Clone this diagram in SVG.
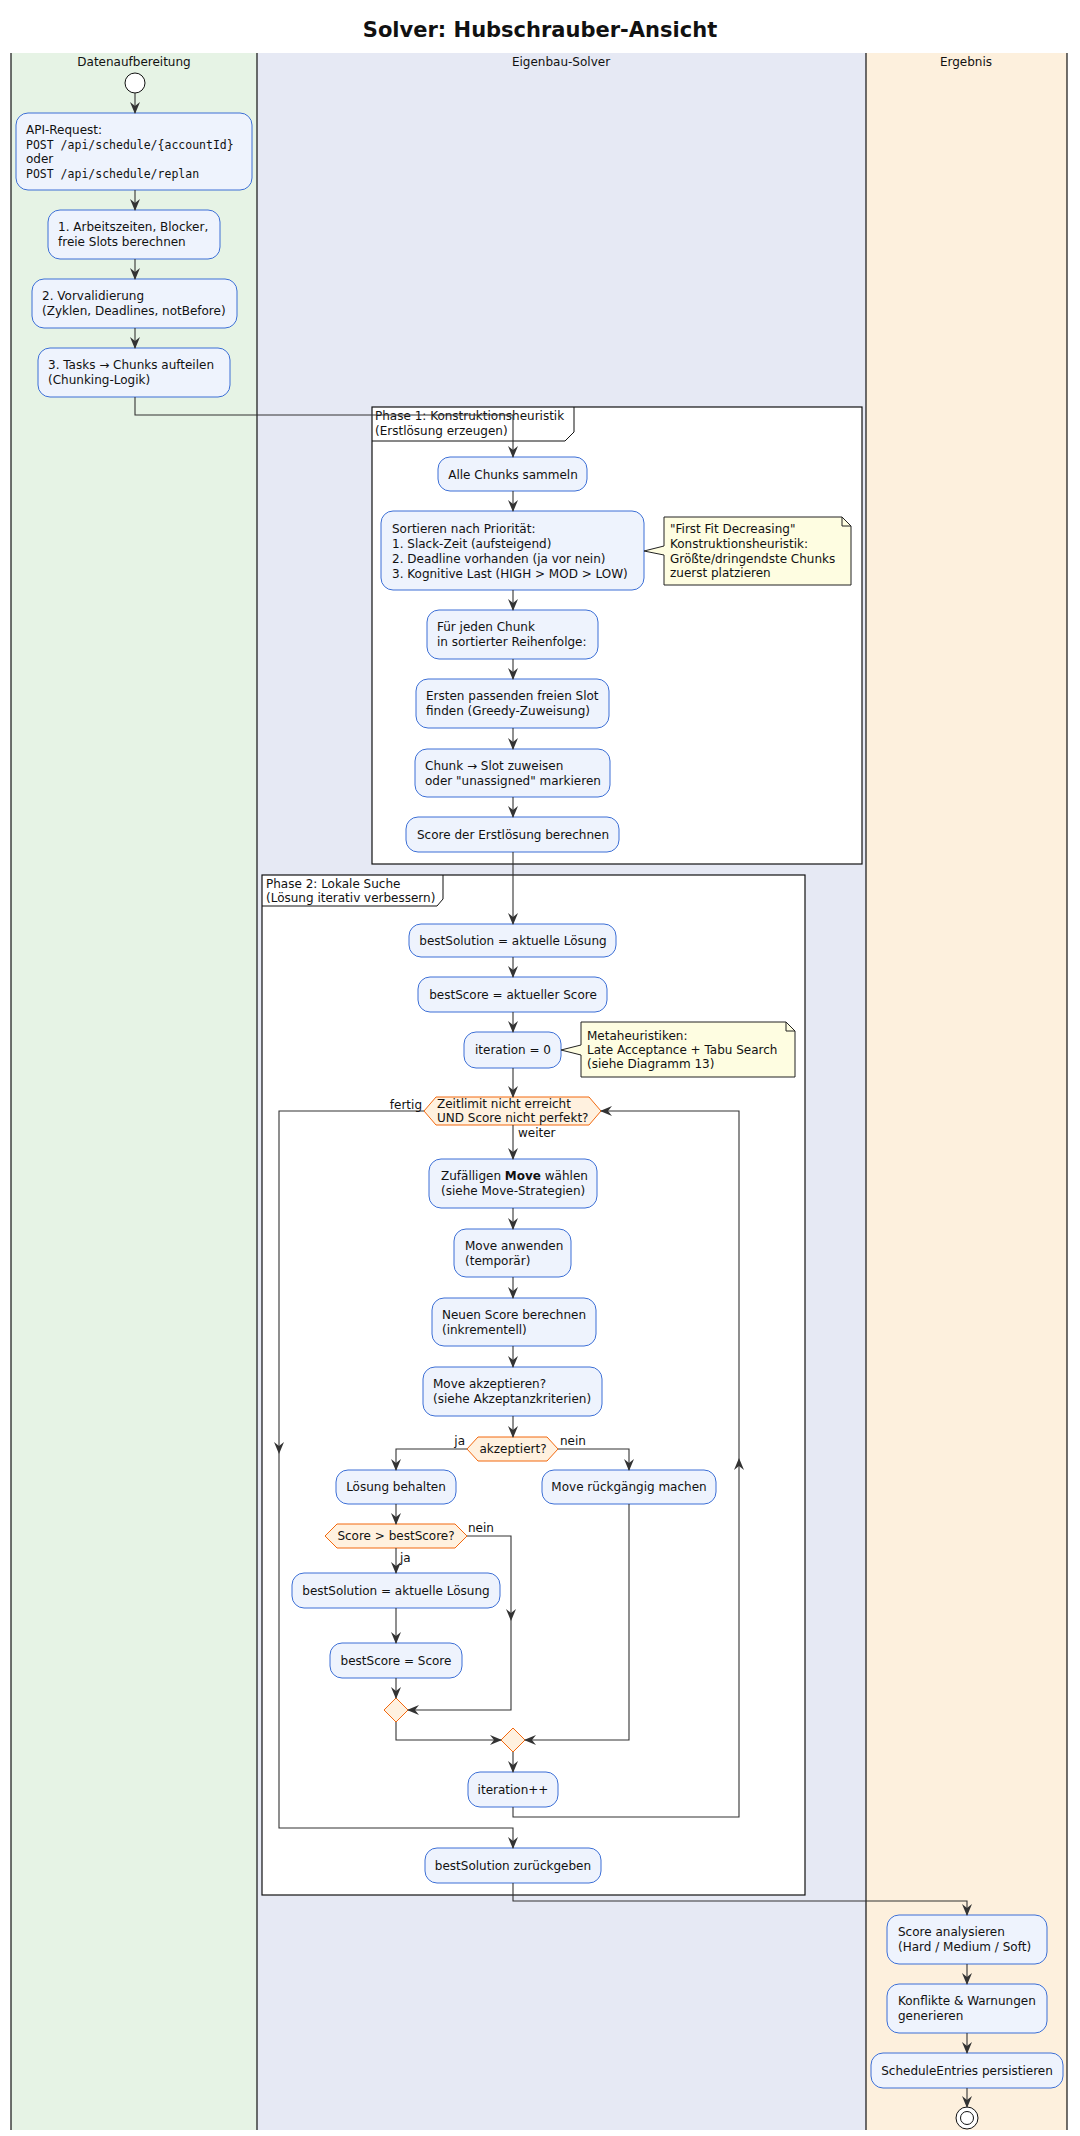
<svg xmlns="http://www.w3.org/2000/svg" width="1080" height="2136" viewBox="0 0 1080 2136">
<style>
text{font-family:"DejaVu Sans",Verdana,sans-serif;font-size:12px;fill:#111}
.mono{font-family:"DejaVu Sans Mono","Liberation Mono",monospace;font-size:11.5px}
.c{text-anchor:middle}
.box{fill:#eef3fd;stroke:#3c6fd6;stroke-width:1}
.dec{fill:#fff1df;stroke:#f2680e;stroke-width:1}
.note{fill:#fefde1;stroke:#222;stroke-width:1}
.frame{fill:#fff;stroke:#111;stroke-width:1.2}
.lane{stroke:#111;stroke-width:1.2}
.cn path{fill:none;stroke:#333;stroke-width:1.1}
</style>
<defs>
<marker id="a" viewBox="0 0 12 10" refX="11" refY="5" markerWidth="12" markerHeight="10" markerUnits="userSpaceOnUse" orient="auto">
<path d="M0,0 L12,5 L0,10 L4,5 z" fill="#333"/>
</marker>
</defs>
<rect width="1080" height="2136" fill="#fff"/>
<text x="540" y="37" class="c" style="font-size:21px;font-weight:bold">Solver: Hubschrauber-Ansicht</text>
<rect x="11" y="53" width="246" height="2077" fill="#e6f3e5"/>
<rect x="257" y="53" width="609" height="2077" fill="#e6e9f4"/>
<rect x="866" y="53" width="201" height="2077" fill="#fdf0dd"/>
<g class="lane"><line x1="11" y1="53" x2="11" y2="2130"/><line x1="257" y1="53" x2="257" y2="2130"/><line x1="866" y1="53" x2="866" y2="2130"/><line x1="1067" y1="53" x2="1067" y2="2130"/></g>
<text x="134" y="66" class="c">Datenaufbereitung</text>
<text x="561" y="66" class="c">Eigenbau-Solver</text>
<text x="966" y="66" class="c">Ergebnis</text>

<g id="phase1"><rect class="frame" x="372" y="407" width="490" height="457"/><path d="M372,441 H565 L574,432 V407" fill="none" stroke="#111"/>
<text x="375" y="420">Phase 1: Konstruktionsheuristik</text><text x="375" y="435">(Erstlösung erzeugen)</text></g>
<g id="phase2"><rect class="frame" x="262" y="875" width="543" height="1020"/><path d="M262,906 H437 L443,899 V875" fill="none" stroke="#111"/>
<text x="266" y="888">Phase 2: Lokale Suche</text><text x="266" y="902">(Lösung iterativ verbessern)</text></g>

<g id="start"><circle cx="135" cy="83" r="10" fill="#fff" stroke="#111"/></g>
<g id="api"><rect class="box" x="16" y="113" width="236" height="77" rx="12"/>
<text x="26" y="134">API-Request:</text><text x="26" y="149" class="mono">POST /api/schedule/{accountId}</text><text x="26" y="163">oder</text><text x="26" y="178" class="mono">POST /api/schedule/replan</text></g>
<g id="b1"><rect class="box" x="48" y="210" width="172" height="49" rx="12"/><text x="58" y="231">1. Arbeitszeiten, Blocker,</text><text x="58" y="246">freie Slots berechnen</text></g>
<g id="b2"><rect class="box" x="32" y="279" width="205" height="49" rx="12"/><text x="42" y="300">2. Vorvalidierung</text><text x="42" y="315">(Zyklen, Deadlines, notBefore)</text></g>
<g id="b3"><rect class="box" x="38" y="348" width="192" height="49" rx="12"/><text x="48" y="369">3. Tasks → Chunks aufteilen</text><text x="48" y="384">(Chunking-Logik)</text></g>

<g id="p1a"><rect class="box" x="438" y="457" width="149" height="34" rx="12"/><text x="513" y="479" class="c">Alle Chunks sammeln</text></g>
<g id="p1b"><rect class="box" x="381" y="511" width="263" height="79" rx="12"/><text x="392" y="533">Sortieren nach Priorität:</text><text x="392" y="548">1. Slack-Zeit (aufsteigend)</text><text x="392" y="563">2. Deadline vorhanden (ja vor nein)</text><text x="392" y="578">3. Kognitive Last (HIGH &gt; MOD &gt; LOW)</text></g>
<g id="note1"><path class="note" d="M664,517 H842 L851,526 V585 H664 V555 L644,551 L664,546 Z"/><path d="M842,517 V526 H851" fill="none" stroke="#222"/>
<text x="670" y="533">"First Fit Decreasing"</text><text x="670" y="548">Konstruktionsheuristik:</text><text x="670" y="563">Größte/dringendste Chunks</text><text x="670" y="577">zuerst platzieren</text></g>
<g id="p1c"><rect class="box" x="427" y="610" width="171" height="49" rx="12"/><text x="437" y="631">Für jeden Chunk</text><text x="437" y="646">in sortierter Reihenfolge:</text></g>
<g id="p1d"><rect class="box" x="416" y="679" width="193" height="49" rx="12"/><text x="426" y="700">Ersten passenden freien Slot</text><text x="426" y="715">finden (Greedy-Zuweisung)</text></g>
<g id="p1e"><rect class="box" x="415" y="749" width="195" height="48" rx="12"/><text x="425" y="770">Chunk → Slot zuweisen</text><text x="425" y="785">oder "unassigned" markieren</text></g>
<g id="p1f"><rect class="box" x="406" y="817" width="213" height="35" rx="12"/><text x="513" y="839" class="c">Score der Erstlösung berechnen</text></g>

<g id="p2a"><rect class="box" x="409" y="924" width="207" height="33" rx="12"/><text x="513" y="945" class="c">bestSolution = aktuelle Lösung</text></g>
<g id="p2b"><rect class="box" x="418" y="977" width="189" height="35" rx="12"/><text x="513" y="999" class="c">bestScore = aktueller Score</text></g>
<g id="p2c"><rect class="box" x="464" y="1032" width="97" height="36" rx="12"/><text x="513" y="1054" class="c">iteration = 0</text></g>
<g id="note2"><path class="note" d="M581,1022 H786 L795,1031 V1077 H581 V1055 L561,1050 L581,1045 Z"/><path d="M786,1022 V1031 H795" fill="none" stroke="#222"/>
<text x="587" y="1040">Metaheuristiken:</text><text x="587" y="1054">Late Acceptance + Tabu Search</text><text x="587" y="1068">(siehe Diagramm 13)</text></g>
<g id="loop"><path class="dec" d="M424,1111 L436,1097 H589 L601,1111 L589,1125 H436 Z"/><text x="437" y="1108">Zeitlimit nicht erreicht</text><text x="437" y="1122">UND Score nicht perfekt?</text></g>
<g id="p2d"><rect class="box" x="429" y="1159" width="168" height="49" rx="12"/><text x="441" y="1180">Zufälligen <tspan font-weight="bold">Move</tspan> wählen</text><text x="441" y="1195">(siehe Move-Strategien)</text></g>
<g id="p2e"><rect class="box" x="454" y="1229" width="117" height="48" rx="12"/><text x="465" y="1250">Move anwenden</text><text x="465" y="1265">(temporär)</text></g>
<g id="p2f"><rect class="box" x="432" y="1298" width="164" height="48" rx="12"/><text x="442" y="1319">Neuen Score berechnen</text><text x="442" y="1334">(inkrementell)</text></g>
<g id="p2g"><rect class="box" x="423" y="1367" width="179" height="49" rx="12"/><text x="433" y="1388">Move akzeptieren?</text><text x="433" y="1403">(siehe Akzeptanzkriterien)</text></g>
<g id="acc"><path class="dec" d="M467,1449 L478,1437 H547 L558,1449 L547,1461 H478 Z"/><text x="513" y="1453" class="c">akzeptiert?</text></g>
<g id="keep"><rect class="box" x="336" y="1470" width="120" height="34" rx="12"/><text x="396" y="1491" class="c">Lösung behalten</text></g>
<g id="undo"><rect class="box" x="542" y="1470" width="174" height="34" rx="12"/><text x="629" y="1491" class="c">Move rückgängig machen</text></g>
<g id="better"><path class="dec" d="M325,1536 L337,1524 H455 L467,1536 L455,1548 H337 Z"/><text x="396" y="1540" class="c">Score &gt; bestScore?</text></g>
<g id="setsol"><rect class="box" x="292" y="1573" width="208" height="35" rx="12"/><text x="396" y="1595" class="c">bestSolution = aktuelle Lösung</text></g>
<g id="setscore"><rect class="box" x="330" y="1643" width="132" height="35" rx="12"/><text x="396" y="1665" class="c">bestScore = Score</text></g>
<g id="m1"><path class="dec" d="M396,1698 L408,1710 L396,1722 L384,1710 Z"/></g>
<g id="m2"><path class="dec" d="M513,1728 L525,1740 L513,1752 L501,1740 Z"/></g>
<g id="inc"><rect class="box" x="468" y="1772" width="90" height="35" rx="12"/><text x="513" y="1794" class="c">iteration++</text></g>
<g id="ret"><rect class="box" x="425" y="1848" width="176" height="35" rx="12"/><text x="513" y="1870" class="c">bestSolution zurückgeben</text></g>

<g id="r1"><rect class="box" x="887" y="1915" width="160" height="49" rx="12"/><text x="898" y="1936">Score analysieren</text><text x="898" y="1951">(Hard / Medium / Soft)</text></g>
<g id="r2"><rect class="box" x="887" y="1984" width="160" height="49" rx="12"/><text x="898" y="2005">Konflikte &amp; Warnungen</text><text x="898" y="2020">generieren</text></g>
<g id="r3"><rect class="box" x="871" y="2053" width="192" height="35" rx="12"/><text x="967" y="2075" class="c">ScheduleEntries persistieren</text></g>
<g id="end"><circle cx="967" cy="2118" r="11" fill="#fff" stroke="#111"/><circle cx="967" cy="2118" r="6.5" fill="#fff" stroke="#111"/></g>

<g class="cn">
<path d="M135,93 V113" marker-end="url(#a)"/>
<path d="M135,190 V210" marker-end="url(#a)"/>
<path d="M135,259 V279" marker-end="url(#a)"/>
<path d="M135,328 V348" marker-end="url(#a)"/>
<path d="M135,397 V415 H513 V457" marker-end="url(#a)"/>
<path d="M513,491 V511" marker-end="url(#a)"/>
<path d="M513,590 V610" marker-end="url(#a)"/>
<path d="M513,659 V679" marker-end="url(#a)"/>
<path d="M513,728 V749" marker-end="url(#a)"/>
<path d="M513,797 V817" marker-end="url(#a)"/>
<path d="M513,852 V924" marker-end="url(#a)"/>
<path d="M513,957 V977" marker-end="url(#a)"/>
<path d="M513,1012 V1032" marker-end="url(#a)"/>
<path d="M513,1068 V1097" marker-end="url(#a)"/>
<path d="M513,1125 V1159" marker-end="url(#a)"/>
<path d="M513,1208 V1229" marker-end="url(#a)"/>
<path d="M513,1277 V1298" marker-end="url(#a)"/>
<path d="M513,1346 V1367" marker-end="url(#a)"/>
<path d="M513,1416 V1437" marker-end="url(#a)"/>
<path d="M467,1449 H396 V1470" marker-end="url(#a)"/>
<path d="M558,1449 H629 V1470" marker-end="url(#a)"/>
<path d="M396,1504 V1524" marker-end="url(#a)"/>
<path d="M396,1548 V1573" marker-end="url(#a)"/>
<path d="M396,1608 V1643" marker-end="url(#a)"/>
<path d="M396,1678 V1698" marker-end="url(#a)"/>
<path d="M467,1536 H511 V1620" marker-end="url(#a)"/>
<path d="M511,1620 V1710 H408" marker-end="url(#a)"/>
<path d="M396,1722 V1740 H501" marker-end="url(#a)"/>
<path d="M629,1504 V1740 H525" marker-end="url(#a)"/>
<path d="M513,1752 V1772" marker-end="url(#a)"/>
<path d="M513,1807 V1817 H739 V1459" marker-end="url(#a)"/>
<path d="M739,1459 V1111 H601" marker-end="url(#a)"/>
<path d="M424,1111 H279 V1453" marker-end="url(#a)"/>
<path d="M279,1453 V1828 H513 V1848" marker-end="url(#a)"/>
<path d="M513,1883 V1901 H967 V1915" marker-end="url(#a)"/>
<path d="M967,1964 V1984" marker-end="url(#a)"/>
<path d="M967,2033 V2053" marker-end="url(#a)"/>
<path d="M967,2088 V2107" marker-end="url(#a)"/>
</g>
<text x="422" y="1109" style="text-anchor:end">fertig</text>
<text x="518" y="1137">weiter</text>
<text x="465" y="1445" style="text-anchor:end">ja</text>
<text x="560" y="1445">nein</text>
<text x="468" y="1532">nein</text>
<text x="400" y="1562">ja</text>
</svg>
